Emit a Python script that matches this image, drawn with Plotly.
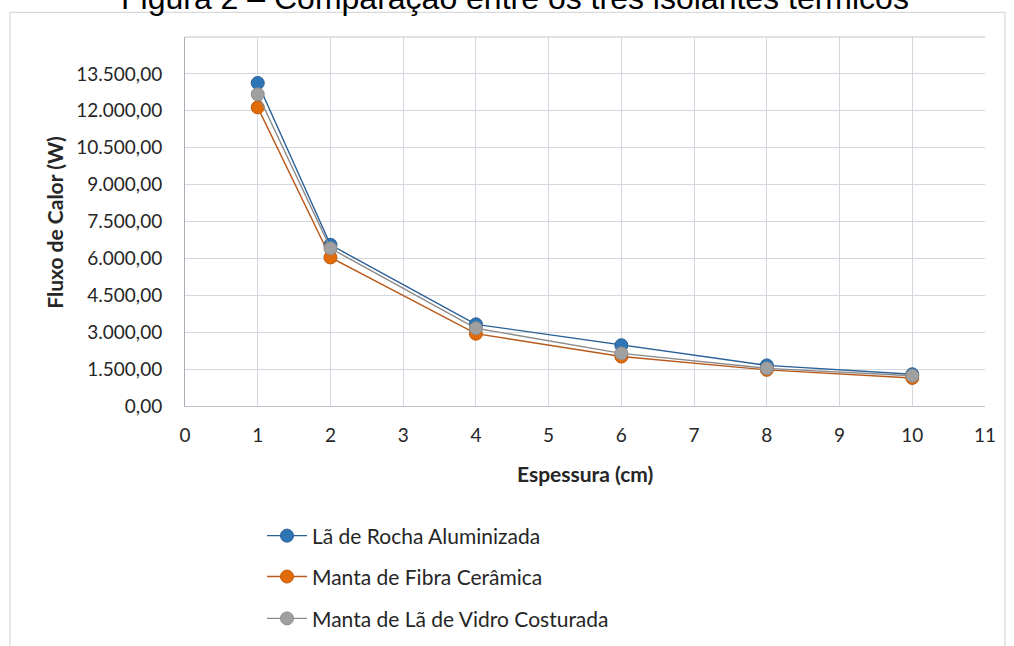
import plotly.graph_objects as go

espessura = [1, 2, 4, 6, 8, 10]
la_rocha = [13130, 6550, 3320, 2470, 1650, 1290]
fibra_ceramica = [12140, 6040, 2940, 2010, 1470, 1140]
la_vidro = [12670, 6410, 3160, 2140, 1530, 1230]

series_names = ["Lã de Rocha Aluminizada", "Manta de Fibra Cerâmica", "Manta de Lã de Vidro Costurada"]
y_ticks = [0, 1500, 3000, 4500, 6000, 7500, 9000, 10500, 12000, 13500]
y_ticktext = ["0,00", "1.500,00", "3.000,00", "4.500,00", "6.000,00", "7.500,00",
              "9.000,00", "10.500,00", "12.000,00", "13.500,00"]
x_ticks = list(range(0, 12))

S = 370 / 367  # vertical compensation of the photographed page
W, H = 1014, round(646 * S)
# plot area in (screen) pixels
L, R, T, B = 185, 985, 37, 407
Tf, Bf = round(T * S), round(B * S)


def px(x):
    return (x - L) / (R - L)


def py(y):
    return (Bf - y * S) / (Bf - Tf)


FONT = "Lato"
styles = [
    dict(line="#2A5F97", fill="#2E75B6", edge="#275E93"),
    dict(line="#B8581A", fill="#E36C0A", edge="#C05A0B"),
    dict(line="#8A8A8A", fill="#A0A0A0", edge="#8C8C8C"),
]
data = [la_rocha, fibra_ceramica, la_vidro]
legends = ["legend", "legend2", "legend3"]

fig = go.Figure()
for name, vals, st, lg in zip(series_names, data, styles, legends):
    fig.add_trace(go.Scatter(
        x=espessura, y=vals, name=name, mode="lines+markers",
        line=dict(color=st["line"], width=1.4),
        marker=dict(size=13, color=st["fill"], line=dict(color=st["edge"], width=1)),
        legend=lg,
    ))

leg_common = dict(font=dict(family=FONT, size=21, color="#262626"),
                  bgcolor="rgba(0,0,0,0)", xanchor="left", yanchor="middle",
                  itemwidth=40)
fig.update_layout(
    width=W, height=H,
    margin=dict(l=L, r=W - R, t=Tf, b=H - Bf),
    paper_bgcolor="white", plot_bgcolor="white",
    showlegend=True,
    legend=dict(x=px(262), y=py(537), **leg_common),
    legend2=dict(x=px(262), y=py(578), **leg_common),
    legend3=dict(x=px(262), y=py(620), **leg_common),
    xaxis=dict(range=[0, 11], tickvals=x_ticks, showgrid=True, gridcolor="#D3D7DE",
               gridwidth=1.3, zeroline=False, showline=True, linecolor="#BFC4CC",
               ticks="", tickfont=dict(family=FONT, size=19, color="#262626"),
               ticklabelstandoff=12),
    yaxis=dict(range=[0, 15000], tickvals=y_ticks, ticktext=y_ticktext, showgrid=True,
               gridcolor="#D3D7DE", gridwidth=1.3, zeroline=False, showline=True,
               linecolor="#A9AEB6", ticks="",
               tickfont=dict(family=FONT, size=19, color="#262626"),
               ticklabelstandoff=18),
    font=dict(family=FONT),
)

# top border gridline of plot area
fig.add_shape(type="line", xref="paper", yref="paper", x0=0, x1=1, y0=1, y1=1,
              line=dict(color="#D3D7DE", width=1.3))
# outer chart frame
fig.add_shape(type="rect", xref="paper", yref="paper",
              x0=px(10), x1=px(1005), y0=py(700), y1=py(12),
              line=dict(color="#D9D9D9", width=1.2), fillcolor="rgba(0,0,0,0)", layer="below")

fig.add_annotation(text="<b>Espessura (cm)</b>", xref="paper", yref="paper",
                   x=0.5, y=py(474), xanchor="center", yanchor="middle", showarrow=False,
                   font=dict(family=FONT, size=21, color="#262626"))
fig.add_annotation(text="<b>Fluxo de Calor (W)</b>", xref="paper", yref="paper",
                   x=px(55), y=py(223), xanchor="center", yanchor="middle",
                   showarrow=False, textangle=-90,
                   font=dict(family=FONT, size=21, color="#262626"))
fig.add_annotation(text="Figura 2 – Comparação entre os três isolantes térmicos",
                   xref="paper", yref="paper", x=px(515), y=py(18),
                   xanchor="center", yanchor="bottom", showarrow=False,
                   font=dict(family="Liberation Sans", size=32, color="#000000"))

fig.write_html("out.html", config={"displayModeBar": False},
               post_script="document.body.style.margin='0';document.body.style.overflow='hidden';")
